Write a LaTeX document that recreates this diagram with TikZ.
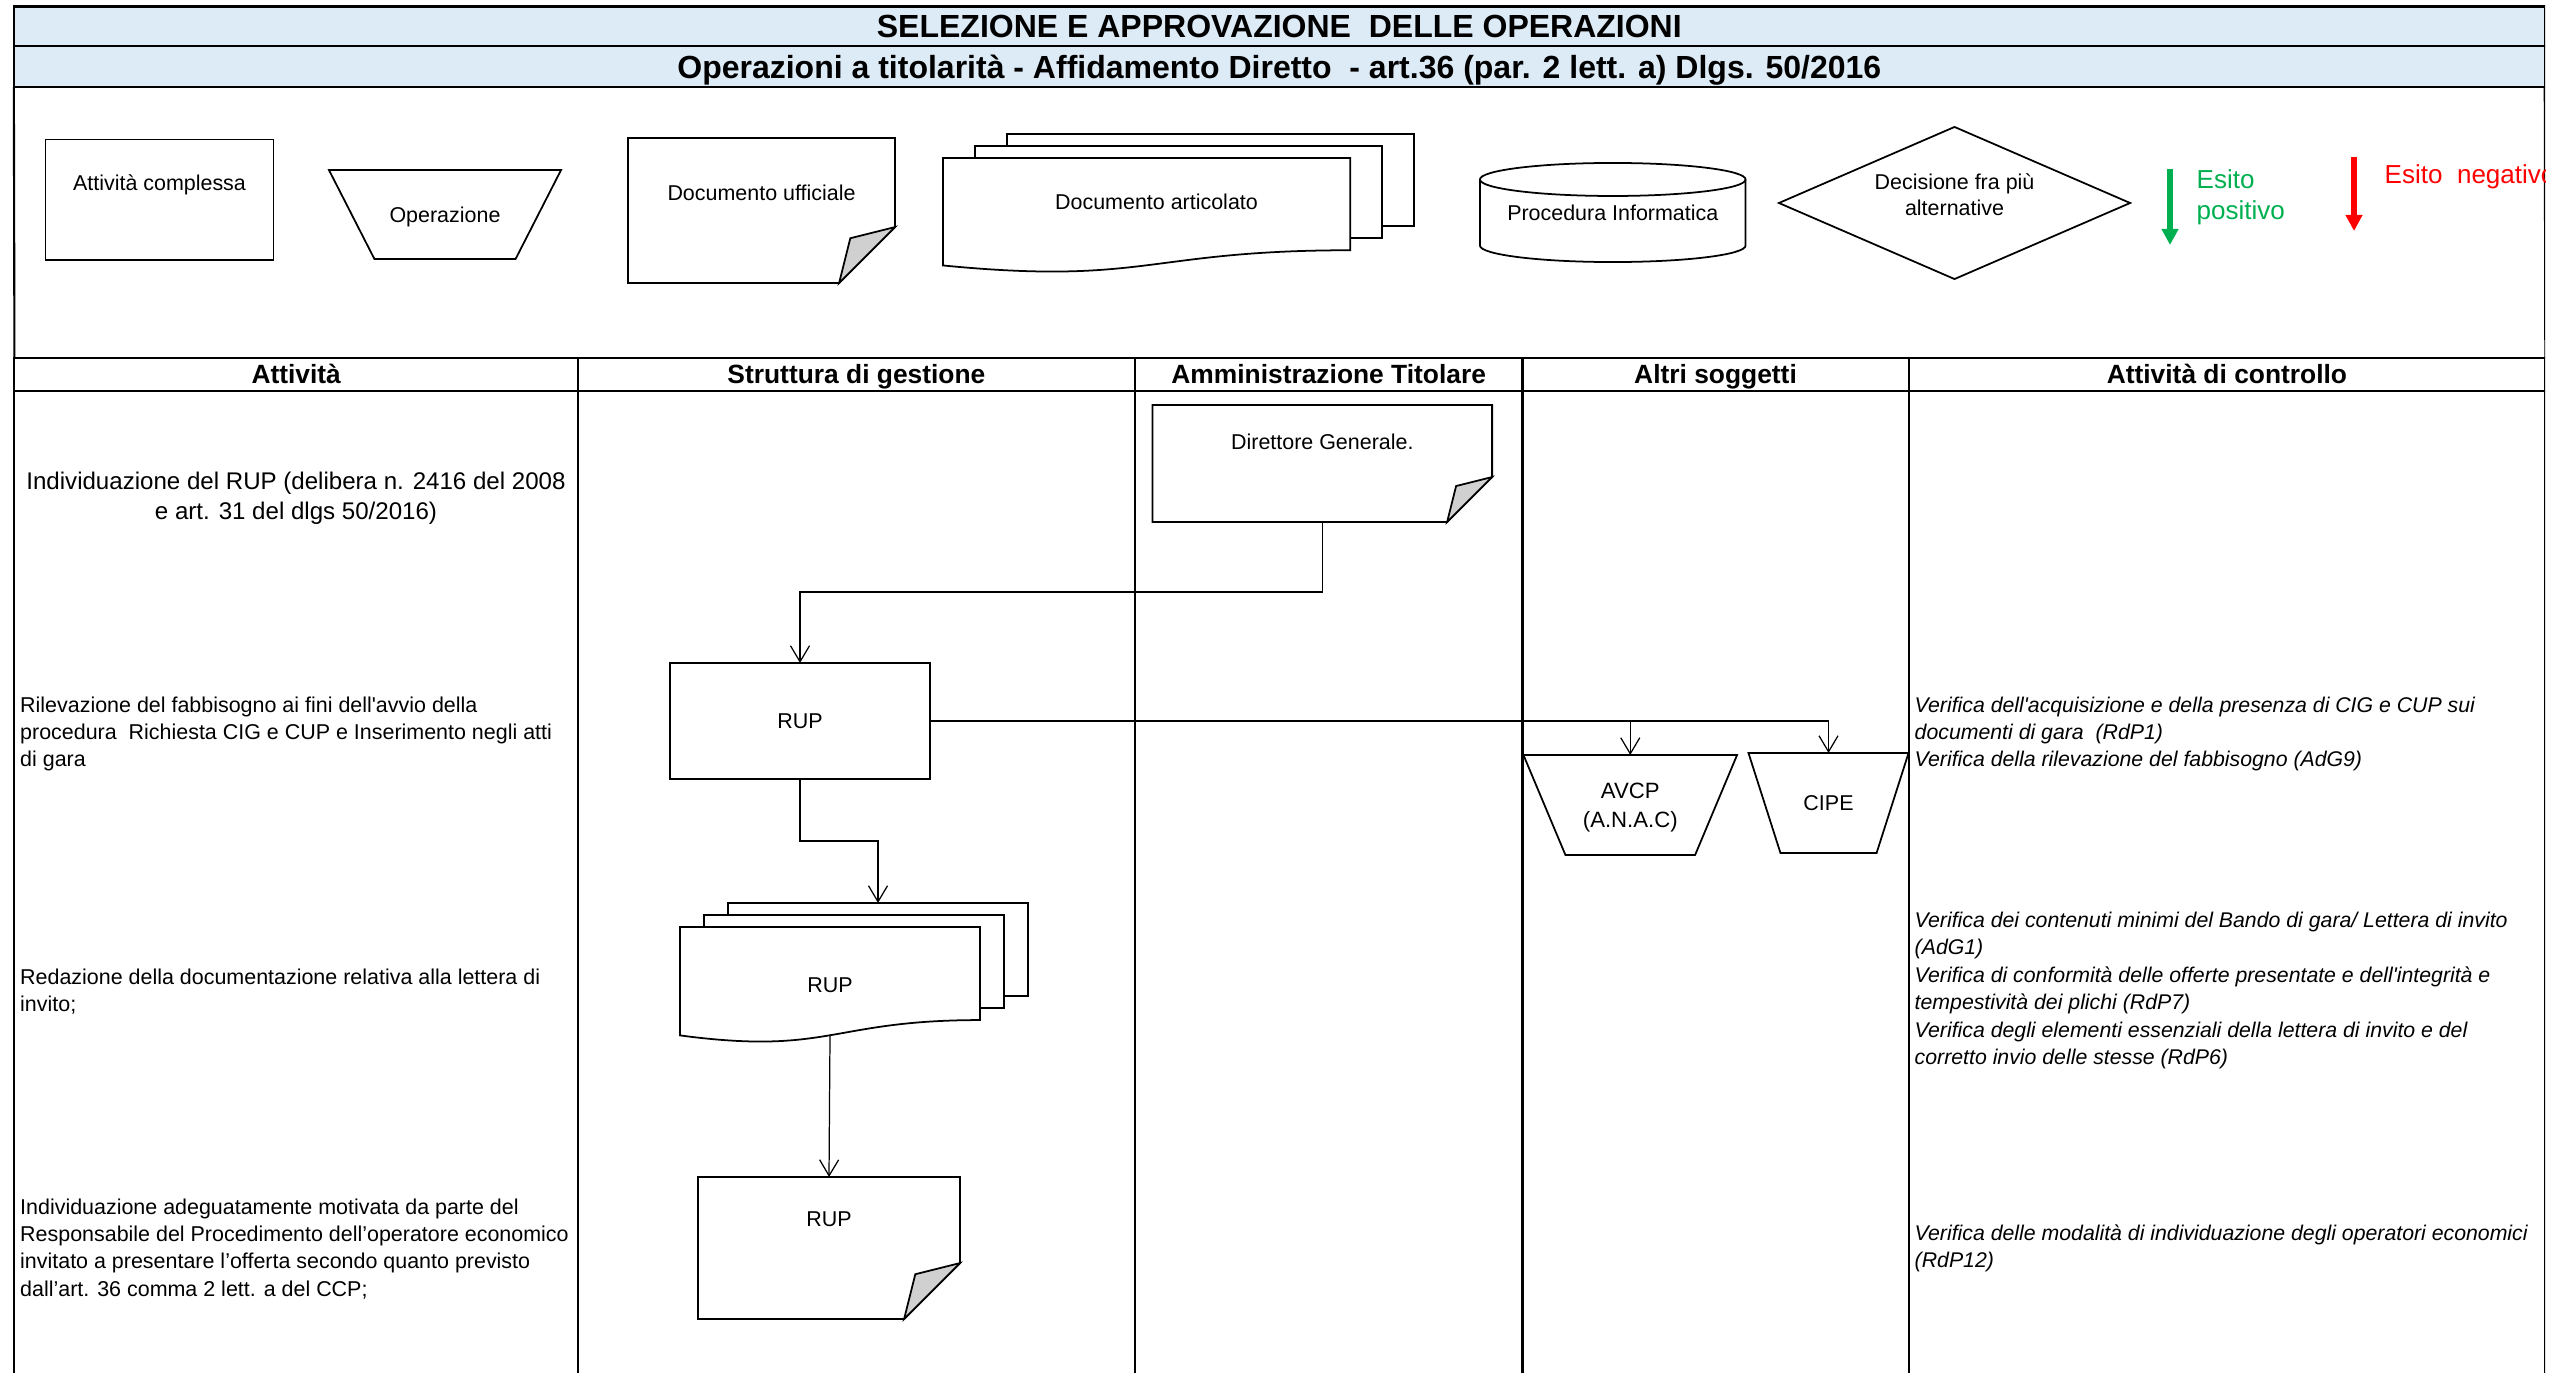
\documentclass[tikz,border=0pt]{standalone}
\usepackage{fontspec}
\setmainfont{Liberation Sans}[Ligatures=TeXOff]
\usetikzlibrary{arrows.meta, positioning, shapes.geometric, backgrounds}
\definecolor{titleblue}{HTML}{DDEBF7}
\definecolor{foldgray}{HTML}{D0D0D0}
\definecolor{okgreen}{HTML}{00B050}
\definecolor{kored}{HTML}{FF0000}

% document with folded corner round node #1, fold #2 (px)
\newcommand{\folddoc}[2]{%
  \begin{scope}[on background layer]
    \filldraw[shapeline] (#1.north west) -- (#1.north east)
      -- ([shift={(0,-#2)}]#1.south east) -- ([shift={(-#2,0)}]#1.south east)
      -- (#1.south west) -- cycle;
    \filldraw[shapeline, fill=foldgray] ([shift={(0,-#2)}]#1.south east)
      -- ([shift={(-0.8*#2,-0.8*#2)}]#1.south east)
      -- ([shift={(-#2,0)}]#1.south east) -- cycle;
  \end{scope}}

% stack of pages with wavy foot round node #1: offset #2,#3, height #4 (px)
\newcommand{\multidoc}[4]{%
  \begin{scope}[on background layer]
    \filldraw[shapeline] ([shift={(2*#2,2*#3)}]#1.north west)
      rectangle ([shift={(2*#2,2*#3-0.198*#4)}]#1.south east);
    \filldraw[shapeline] ([shift={(#2,#3)}]#1.north west)
      rectangle ([shift={(#2,#3-0.198*#4)}]#1.south east);
    \filldraw[shapeline] (#1.north west) -- (#1.north east)
      -- ([shift={(0,-0.198*#4)}]#1.south east)
      .. controls ([shift={(0,-0.198*#4)}]#1.south) and ([shift={(0,0.107*#4)}]#1.south)
      .. ([shift={(0,-0.066*#4)}]#1.south west) -- cycle;
  \end{scope}
  \coordinate (#1-top) at ([shift={(2*#2,2*#3)}]#1.north);
  \coordinate (#1-foot) at ([shift={(0,-0.067*#4)}]#1.south);}

% upside-down trapezoid round node #1, inset #2 (px)
\newcommand{\opshape}[2]{%
  \begin{scope}[on background layer]
    \filldraw[shapeline] (#1.north west) -- (#1.north east)
      -- ([shift={(-#2,0)}]#1.south east) -- ([shift={(#2,0)}]#1.south west) -- cycle;
  \end{scope}}

\begin{document}
\begin{tikzpicture}[x=0.01cm, y=-0.01cm,
    laneline/.style={line width=0.6pt},
    shapeline/.style={draw, line width=0.5pt, fill=white},
    shp/.style={inner sep=0pt, outer sep=0pt, align=center, text depth=0pt,
                font=\fontsize{6.1}{7.4}\selectfont},
    titlecell/.style={rectangle, draw, line width=0.6pt, fill=titleblue,
                      inner sep=0pt, outer sep=0pt, minimum width=25.294cm,
                      text height=6.6pt, text depth=0pt,
                      font=\bfseries\fontsize{9.1}{10}\selectfont},
    headcell/.style={rectangle, draw, line width=0.6pt, inner sep=0pt,
                     outer sep=0pt, minimum height=0.33cm,
                     text height=5.4pt, text depth=0pt,
                     font=\bfseries\fontsize{7.5}{9}\selectfont},
    acttxt/.style={inner sep=0pt, align=left, anchor=west,
                   font=\fontsize{6.1}{7.7}\selectfont},
    ctrltxt/.style={inner sep=0pt, align=left, anchor=west,
                    font=\itshape\fontsize{6.05}{7.8}\selectfont},
    esito/.style={inner sep=0pt, align=left, anchor=west,
                  font=\fontsize{7.4}{8.8}\selectfont},
    conn/.style={-{Straight Barb[length=1.6mm, width=1.9mm]}, line width=0.35pt},
    outcome/.style={-{Triangle[length=1.6mm, width=1.6mm]}, line width=1.7pt}
  ]
  \useasboundingbox (0,0) rectangle (2552,1373);
  \clip (0,0) rectangle (2545,1373);

  % titles
  \node[titlecell, minimum height=0.395cm] (title) at (1279.3,26.25)
    {SELEZIONE E APPROVAZIONE\ \ DELLE OPERAZIONI};
  \node[titlecell, minimum height=0.41cm, below=0pt of title] (subtitle)
    {Operazioni a titolarità - Affidamento Diretto\ \ - art.36 (par. 2 lett. a) Dlgs. 50/2016};

  % lane headers
  \node[headcell, minimum width=5.632cm] (hd-act) at (296.2,374.5) {Attività};
  \node[headcell, minimum width=5.566cm, right=0pt of hd-act] (hd-sdg) {Struttura di gestione};
  \node[headcell, minimum width=3.874cm, right=0pt of hd-sdg] (hd-amm) {Amministrazione Titolare};
  \node[headcell, minimum width=3.858cm, right=0pt of hd-amm] (hd-alt) {Altri soggetti};
  \node[headcell, minimum width=6.364cm, right=0pt of hd-alt] (hd-ctl) {Attività di controllo};

  % frame and lanes
  \draw[laneline] (subtitle.south west) -- (hd-act.north west);
  \draw[laneline] (subtitle.south east) -- (hd-ctl.north east);
  \draw[laneline] (hd-act.south west) -- ++(0,1000);
  \draw[laneline] (hd-act.south east) -- ++(0,1000);
  \draw[laneline] (hd-sdg.south east) -- ++(0,1000);
  \draw[laneline] (hd-amm.south east) -- ++(0,1000);
  \draw[laneline] (hd-alt.south east) -- ++(0,1000);
  \draw[laneline] (hd-ctl.south east) -- ++(0,1000);

  % legend
  \node[shp, draw, line width=0.5pt, minimum width=2.28cm, minimum height=1.205cm] (lg-act) at (159.5,199.8) {};
  \node[shp, below=0.355cm of lg-act.north] (lg-act-txt) {Attività complessa};

  \node[shp, minimum width=2.32cm, minimum height=0.89cm] (lg-op) at (445,214.5) {Operazione};
  \opshape{lg-op}{45.5}

  \node[shp, minimum width=2.67cm, minimum height=1.45cm] (lg-doc) at (761.5,210.5) {};
  \folddoc{lg-doc}{56}
  \node[shp, below=0.47cm of lg-doc.north] (lg-doc-txt) {Documento ufficiale};

  \node[shp, minimum width=4.07cm, minimum height=1.15cm] (lg-multi) at (1146.5,215.5) {};
  \multidoc{lg-multi}{32}{-12}{115}
  \node[shp, below=0.36cm of lg-multi.north, xshift=0.1cm] (lg-multi-txt) {Documento articolato};

  \node[shp, minimum width=2.655cm, minimum height=0.99cm] (lg-db) at (1612.75,212.5) {Procedura Informatica};
  \begin{scope}[on background layer]
    \filldraw[shapeline] ([shift={(0,16.5)}]lg-db.north west) -- ([shift={(0,-16.5)}]lg-db.south west)
      arc[start angle=180, end angle=360, x radius=1.3275cm, y radius=0.165cm]
      -- ([shift={(0,16.5)}]lg-db.north east)
      arc[start angle=0, end angle=180, x radius=1.3275cm, y radius=0.165cm] -- cycle;
    \draw[shapeline, fill=none] ([shift={(0,16.5)}]lg-db.north west)
      arc[start angle=180, end angle=360, x radius=1.3275cm, y radius=0.165cm];
  \end{scope}

  \node[shp, diamond, draw, line width=0.5pt, aspect=2.3, text depth=4.6pt,
        minimum width=3.51cm, minimum height=1.52cm] (lg-dec) at (1954.5,203)
    {Decisione fra più\\alternative};

  \coordinate (pos-from) at (2170,169);
  \coordinate (pos-to) at (2170,245);
  \draw[outcome, okgreen] (pos-from) -- (pos-to);
  \node[esito, text=okgreen] (pos-txt) at (2196,197.5) {Esito\\positivo};
  \coordinate (neg-from) at (2354,157);
  \coordinate (neg-to) at (2354,231);
  \draw[outcome, kored] (neg-from) -- (neg-to);
  \node[esito, text=kored] (neg-txt) at (2384,177) {Esito\ \ negativo};

  % activities
  \node[acttxt, anchor=center, align=center, font=\fontsize{6.85}{8.6}\selectfont] (act-rup) at (296,498.5)
    {Individuazione del RUP (delibera n. 2416 del 2008\\e art. 31 del dlgs 50/2016)};
  \node[acttxt] (act-fab) at (19.5,734)
    {Rilevazione del fabbisogno ai fini dell'avvio della\\procedura\ \ Richiesta CIG e CUP e Inserimento negli atti\\di gara};
  \node[acttxt] (act-inv) at (19.5,992)
    {Redazione della documentazione relativa alla lettera di\\invito;};
  \node[acttxt] (act-ope) at (19.5,1249)
    {Individuazione adeguatamente motivata da parte del\\Responsabile del Procedimento dell’operatore economico\\invitato a presentare l’offerta secondo quanto previsto\\dall’art. 36 comma 2 lett. a del CCP;};

  % controls
  \node[ctrltxt] (ctl-cig) at (1914,734)
    {Verifica dell'acquisizione e della presenza di CIG e CUP sui\\documenti di gara\ \ (RdP1)\\Verifica della rilevazione del fabbisogno (AdG9)};
  \node[ctrltxt] (ctl-ban) at (1914,990.5)
    {Verifica dei contenuti minimi del Bando di gara/ Lettera di invito\\(AdG1)\\Verifica di conformità delle offerte presentate e dell'integrità e\\tempestività dei plichi (RdP7)\\Verifica degli elementi essenziali della lettera di invito e del\\corretto invio delle stesse (RdP6)};
  \node[ctrltxt] (ctl-ope) at (1914,1248.5)
    {Verifica delle modalità di individuazione degli operatori economici\\(RdP12)};

  % flow
  \node[shp, minimum width=3.394cm, minimum height=1.17cm] (dg) at (1322.3,463.5) {};
  \folddoc{dg}{45}
  \node[shp, below=0.29cm of dg.north] (dg-txt) {Direttore Generale.};

  \node[shp, draw, line width=0.5pt, minimum width=2.6cm, minimum height=1.16cm] (rup-a) at (800,721) {RUP};
  \node[shp, minimum width=3cm, minimum height=1.16cm] (rup-b) at (830,985) {RUP};
  \multidoc{rup-b}{24}{-12}{116}
  \node[shp, minimum width=2.62cm, minimum height=1.42cm] (rup-c) at (829,1248) {};
  \folddoc{rup-c}{56}
  \node[shp, below=0.35cm of rup-c.north] (rup-c-txt) {RUP};

  \node[shp, minimum width=2.135cm, minimum height=1cm, font=\fontsize{6.3}{8.2}\selectfont] (avcp) at (1630.25,805) {AVCP\\(A.N.A.C)};
  \opshape{avcp}{42}
  \node[shp, minimum width=1.6cm, minimum height=1cm] (cipe) at (1828.5,803) {CIPE};
  \opshape{cipe}{32}

  \draw[conn] (dg.south) -- ++(0,70) -| (rup-a.north);
  \draw[conn] (rup-a.south) -- ++(0,62) -| (rup-b-top);
  \draw[conn] (rup-a.east) -| (avcp.north);
  \draw[conn] (rup-a.east) -| (cipe.north);
  \draw[conn] (rup-b-foot) -- (rup-c.north);
\end{tikzpicture}
\end{document}
